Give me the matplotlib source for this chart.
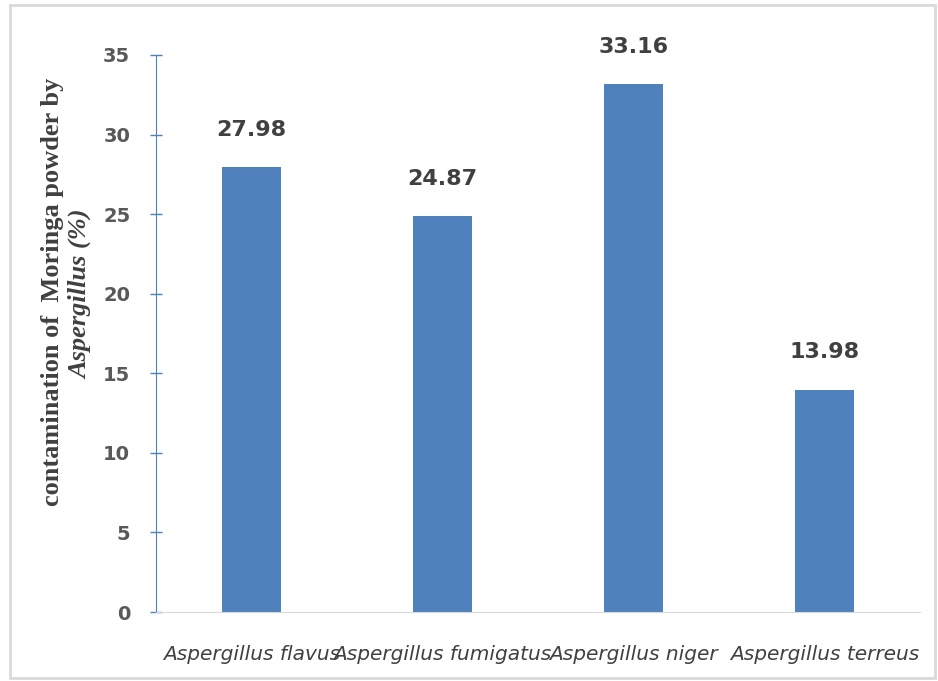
import matplotlib.pyplot as plt
from matplotlib.patches import Rectangle

species = ["Aspergillus flavus", "Aspergillus fumigatus", "Aspergillus niger", "Aspergillus terreus"]
contamination = [27.98, 24.87, 33.16, 13.98]
yticks = [0, 5, 10, 15, 20, 25, 30, 35]

fig = plt.figure(figsize=(9.38, 6.81), dpi=100)
ax = fig.add_axes([156/938, 1-612/681, (920-156)/938, (612-55)/681])

# grey frame round the whole chart
fig.patches.append(Rectangle((10/938, 3/681), 925/938, 673/681, transform=fig.transFigure,
                             fill=False, edgecolor="#D9D9D9", linewidth=2))

x = range(len(species))
ax.bar(x, contamination, width=0.31, color="#4F81BD")

for i, v in zip(x, contamination):
    ax.text(i, v + 1.7, f"{v:.2f}", ha="center", va="bottom", fontsize=16,
            fontweight="bold", color="#404040")

ax.set_xlim(-0.5, len(species) - 0.5)
ax.set_ylim(0, 35)
ax.set_yticks(yticks)
ax.set_yticklabels([str(t) for t in yticks], fontsize=14, fontweight="bold", color="#595959")
ax.tick_params(axis="y", direction="inout", length=9, color="#4F81BD", width=1, pad=14)

ax.set_xticks(list(x))
ax.set_xticklabels(species, fontsize=14.5, style="italic", color="#404040")
ax.tick_params(axis="x", length=0, pad=24)

for s in ["top", "right"]:
    ax.spines[s].set_visible(False)
ax.spines["left"].set_color("#4F81BD")
ax.spines["bottom"].set_color("#D9D9D9")

fig.text(53/938, 1-292/681, "contamination of  Moringa powder by", rotation=90,
         ha="center", va="center", fontsize=19, fontweight="bold",
         family="Liberation Serif", color="#404040")
fig.text(81/938, 1-294/681, "Aspergillus (%)", rotation=90, ha="center", va="center",
         fontsize=19, fontweight="bold", style="italic", family="Liberation Serif", color="#404040")

fig.savefig("out.png", dpi=100)
